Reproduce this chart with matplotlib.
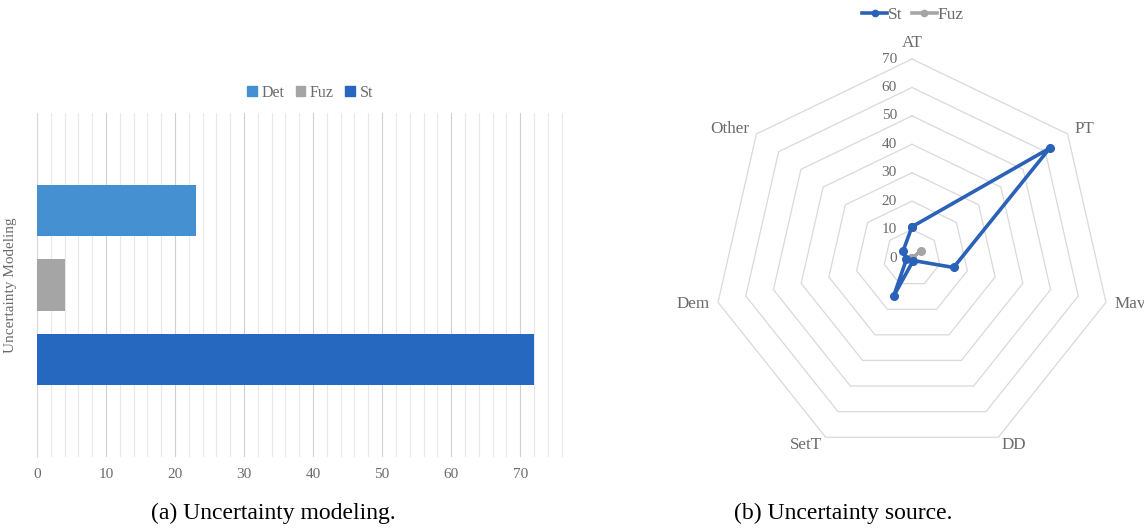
import numpy as np
import matplotlib
matplotlib.use('Agg')
import matplotlib.pyplot as plt
from matplotlib.lines import Line2D
from matplotlib.patches import Patch

plt.rcParams['font.family'] = ['Liberation Serif', 'DejaVu Serif']

# uncertainty modeling (bar chart)
model_labels = ['Det', 'Fuz', 'St']
model_counts = [23, 4, 72]
model_colors = ['#4590d0', '#a5a5a5', '#2667c0']

# uncertainty source (radar chart)
source_labels = ['AT', 'PT', 'Mav', 'DD', 'SetT', 'Dem', 'Other']
st_values = [11, 62, 15, 1, 15, 2, 4]
fuz_values = [0, 4, 0, 0, 0, 0, 0]
radial_ticks = [0, 10, 20, 30, 40, 50, 60, 70]

text_grey = '#6b6b6b'
grid_grey = '#d9d9d9'

fig = plt.figure(figsize=(11.44, 5.28), dpi=100)

# ---- (a) horizontal bars ----
ax1 = fig.add_axes([37 / 1144, 71 / 528, 528 / 1144, 344 / 528])
ypos = [1, 0, -1]
for y, v, c in zip(ypos, model_counts, model_colors):
    ax1.barh(y, v, height=0.69, color=c, zorder=3)
ax1.set_ylim(-2.32, 2.32)
ax1.set_xlim(0, 76.5)
ax1.set_xticks(np.arange(0, 71, 10))
ax1.set_xticks(np.arange(0, 77, 2), minor=True)
ax1.grid(axis='x', which='major', color='#d0d0d0', linewidth=0.8, zorder=0)
ax1.grid(axis='x', which='minor', color='#e8e8e8', linewidth=0.8, zorder=0)
ax1.set_yticks([])
ax1.tick_params(axis='x', which='both', length=0, pad=8, labelsize=11, labelcolor=text_grey)
for s in ['top', 'right', 'bottom']:
    ax1.spines[s].set_visible(False)
ax1.spines['left'].set_color(grid_grey)
ax1.set_ylabel('Uncertainty Modeling', fontsize=11, color=text_grey)
ax1.yaxis.set_label_coords(-20 / 528, 0.5)

bar_handles = [Patch(color=c, label=l) for l, c in zip(model_labels, model_colors)]
fig.legend(handles=bar_handles, loc='center', bbox_to_anchor=(310 / 1144, 1 - 93 / 528),
           ncol=3, frameon=False, fontsize=11.5, handlelength=0.6, handleheight=0.6,
           handletextpad=0.3, columnspacing=0.7, labelcolor=text_grey)

# ---- (b) radar ----
ax2 = fig.add_axes([712 / 1144, 50 / 528, 400 / 1144, 440 / 528])
ax2.set_xlim(-70.35, 70.35)
ax2.set_ylim(-77.4, 77.4)
ax2.set_aspect('equal')
ax2.axis('off')

n = len(source_labels)
theta = np.pi / 2 - np.arange(n) * 2 * np.pi / n
ct, st = np.cos(theta), np.sin(theta)

for r in radial_ticks[1:]:
    ax2.plot(np.append(r * ct, r * ct[0]), np.append(r * st, r * st[0]),
             color=grid_grey, linewidth=0.9, zorder=1)
for r in radial_ticks:
    ax2.text(-5.3, r, str(r), ha='right', va='center', fontsize=11, color=text_grey)

for lab, c, s in zip(source_labels, ct, st):
    x, y = 73 * c, 73 * s
    if abs(c) < 0.1:
        ha = 'center'
    elif c > 0:
        ha = 'left'
    else:
        ha = 'right'
    va = 'bottom' if s > 0.95 else 'center'
    ax2.text(x, y, lab, ha=ha, va=va, fontsize=12.3, color=text_grey, clip_on=False)

fz = np.array(fuz_values + fuz_values[:1], dtype=float)
sv = np.array(st_values + st_values[:1], dtype=float)
ctc, stc = np.append(ct, ct[0]), np.append(st, st[0])
ax2.plot(fz * ctc, fz * stc, color='#a5a5a5', linewidth=2.2, marker='o', markersize=5.5, zorder=2)
ax2.plot(sv * ctc, sv * stc, color='#2a62b8', linewidth=2.6, marker='o', markersize=5.5, zorder=3)

radar_handles = [
    Line2D([], [], color='#2a62b8', linewidth=2.6, marker='o', markersize=4.5, label='St'),
    Line2D([], [], color='#a5a5a5', linewidth=2.6, marker='o', markersize=4.5, label='Fuz'),
]
fig.legend(handles=radar_handles, loc='center', bbox_to_anchor=(913 / 1144, 1 - 15 / 528),
           ncol=2, frameon=False, fontsize=12.5, handlelength=1.45, handletextpad=0.05,
           columnspacing=0.5, labelcolor=text_grey)

# captions
fig.text(273 / 1144, 1 - 513 / 528, '(a) Uncertainty modeling.', ha='center', va='center', fontsize=17)
fig.text(843 / 1144, 1 - 513 / 528, '(b) Uncertainty source.', ha='center', va='center', fontsize=17)

fig.savefig('out.png', dpi=100)
